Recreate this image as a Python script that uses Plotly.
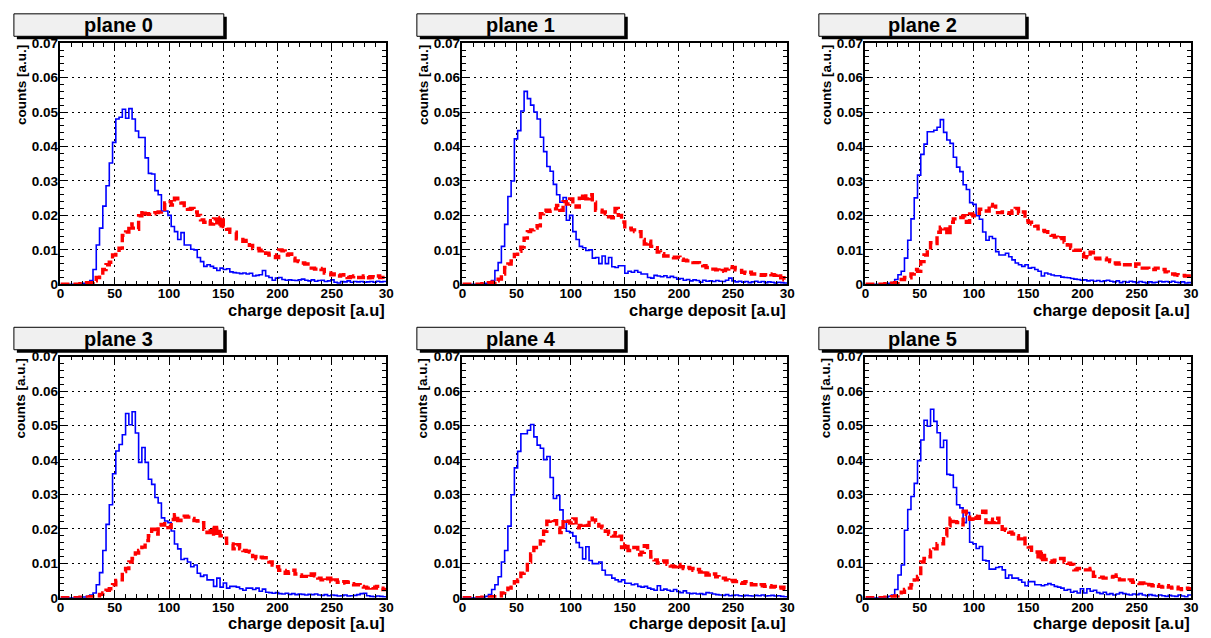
import plotly.graph_objects as go

W, H = 1211, 638

bin_edges = [3 * i for i in range(101)]
x_tick_vals = [0, 50, 100, 150, 200, 250, 300]
x_tick_text = ["0", "50", "100", "150", "200", "250", "30"]
y_tick_vals = [0, 0.01, 0.02, 0.03, 0.04, 0.05, 0.06, 0.07]
y_tick_text = ["0", "0.01", "0.02", "0.03", "0.04", "0.05", "0.06", "0.07"]
plane_names = ["plane 0", "plane 1", "plane 2", "plane 3", "plane 4", "plane 5"]
x_title = "charge deposit [a.u]"
y_title = "counts [a.u.]"

blue_0 = [0, 0, 0, 0, 0, 0, 0.0002, 0.0003, 0.0005, 0.0011,
          0.0043, 0.0114, 0.0163, 0.0227, 0.0286, 0.0352, 0.0412, 0.0480, 0.0485, 0.0508,
          0.0482, 0.0510, 0.0480, 0.0445, 0.0426, 0.0426, 0.0367, 0.0322, 0.0320, 0.0272,
          0.0260, 0.0213, 0.0213, 0.0200, 0.0168, 0.0153, 0.0130, 0.0150, 0.0114, 0.0114,
          0.0102, 0.0100, 0.0078, 0.0066, 0.0052, 0.0057, 0.0052, 0.0047, 0.0040, 0.0047,
          0.0043, 0.0045, 0.0036, 0.0034, 0.0033, 0.0031, 0.0033, 0.0030, 0.0032, 0.0024,
          0.0026, 0.0028, 0.0040, 0.0024, 0.0020, 0.0012, 0.0018, 0.0020, 0.0014, 0.0012,
          0.0013, 0.0012, 0.0011, 0.0013, 0.0015, 0.0012, 0.0010, 0.0013, 0.0009, 0.0011,
          0.0012, 0.0008, 0.0010, 0.0013, 0.0006, 0.0004, 0.0008, 0.0007, 0.0010, 0.0006,
          0.0008, 0.0007, 0.0008, 0.0006, 0.0007, 0.0008, 0.0006, 0.0009, 0.0007, 0.0008]
red_0 = [0, 0, 0, 0, 0, 0, 0.0002, 0.0003, 0.0005, 0.0005,
         0.0010, 0.0020, 0.0028, 0.0043, 0.0057, 0.0064, 0.0085, 0.0099, 0.0105, 0.0142,
         0.0152, 0.0175, 0.0163, 0.0160, 0.0199, 0.0213, 0.0205, 0.0203, 0.0205, 0.0208,
         0.0210, 0.0218, 0.0236, 0.0240, 0.0230, 0.0250, 0.0248, 0.0236, 0.0222, 0.0218,
         0.0220, 0.0210, 0.0200, 0.0187, 0.0180, 0.0185, 0.0175, 0.0190, 0.0170, 0.0194,
         0.0168, 0.0160, 0.0151, 0.0151, 0.0132, 0.0130, 0.0125, 0.0127, 0.0113, 0.0104,
         0.0104, 0.0097, 0.0099, 0.0090, 0.0085, 0.0085, 0.0078, 0.0100, 0.0097, 0.0085,
         0.0088, 0.0076, 0.0068, 0.0066, 0.0062, 0.0059, 0.0047, 0.0047, 0.0044, 0.0046,
         0.0043, 0.0033, 0.0033, 0.0028, 0.0030, 0.0024, 0.0027, 0.0028, 0.0020, 0.0022,
         0.0024, 0.0020, 0.0020, 0.0024, 0.0019, 0.0022, 0.0020, 0.0024, 0.0020, 0.0014]

blue_1 = [0, 0, 0, 0, 0, 0, 0.0002, 0.0003, 0.0004, 0.0011,
          0.0040, 0.0063, 0.0110, 0.0174, 0.0255, 0.0300, 0.0422, 0.0446, 0.0503, 0.0560,
          0.0539, 0.0520, 0.0500, 0.0480, 0.0427, 0.0385, 0.0342, 0.0328, 0.0290, 0.0260,
          0.0238, 0.0252, 0.0186, 0.0200, 0.0153, 0.0130, 0.0110, 0.0106, 0.0098, 0.0100,
          0.0076, 0.0078, 0.0060, 0.0082, 0.0060, 0.0078, 0.0051, 0.0049, 0.0054, 0.0054,
          0.0032, 0.0038, 0.0035, 0.0040, 0.0035, 0.0030, 0.0030, 0.0020, 0.0018, 0.0026,
          0.0024, 0.0022, 0.0025, 0.0020, 0.0023, 0.0020, 0.0015, 0.0017, 0.0012, 0.0014,
          0.0010, 0.0013, 0.0011, 0.0006, 0.0012, 0.0009, 0.0010, 0.0008, 0.0011, 0.0009,
          0.0008, 0.0012, 0.0018, 0.0010, 0.0007, 0.0009, 0.0006, 0.0008, 0.0005, 0.0007,
          0.0009, 0.0006, 0.0008, 0.0005, 0.0007, 0.0006, 0.0004, 0.0006, 0.0005, 0.0004]
red_1 = [0, 0, 0, 0, 0, 0, 0.0002, 0.0003, 0.0005, 0.0006,
         0.0010, 0.0015, 0.0030, 0.0049, 0.0059, 0.0068, 0.0087, 0.0096, 0.0108, 0.0134,
         0.0153, 0.0158, 0.0163, 0.0170, 0.0205, 0.0215, 0.0212, 0.0215, 0.0219, 0.0229,
         0.0215, 0.0240, 0.0233, 0.0248, 0.0233, 0.0224, 0.0250, 0.0262, 0.0248, 0.0260,
         0.0238, 0.0215, 0.0215, 0.0210, 0.0205, 0.0196, 0.0193, 0.0220, 0.0200, 0.0181,
         0.0167, 0.0163, 0.0158, 0.0153, 0.0153, 0.0130, 0.0117, 0.0125, 0.0110, 0.0106,
         0.0094, 0.0089, 0.0082, 0.0082, 0.0079, 0.0077, 0.0079, 0.0073, 0.0070, 0.0068,
         0.0068, 0.0063, 0.0063, 0.0059, 0.0054, 0.0049, 0.0044, 0.0044, 0.0042, 0.0038,
         0.0040, 0.0044, 0.0051, 0.0049, 0.0042, 0.0040, 0.0035, 0.0032, 0.0035, 0.0030,
         0.0030, 0.0028, 0.0026, 0.0028, 0.0030, 0.0028, 0.0026, 0.0030, 0.0019, 0.0013]

blue_2 = [0, 0, 0, 0, 0, 0, 0.0002, 0.0003, 0.0005, 0.0014,
          0.0028, 0.0038, 0.0076, 0.0128, 0.0190, 0.0251, 0.0317, 0.0377, 0.0407, 0.0443,
          0.0443, 0.0447, 0.0456, 0.0478, 0.0441, 0.0419, 0.0409, 0.0369, 0.0340, 0.0327,
          0.0289, 0.0275, 0.0237, 0.0232, 0.0199, 0.0189, 0.0152, 0.0128, 0.0139, 0.0133,
          0.0095, 0.0085, 0.0085, 0.0090, 0.0080, 0.0071, 0.0062, 0.0057, 0.0052, 0.0057,
          0.0047, 0.0049, 0.0043, 0.0038, 0.0024, 0.0033, 0.0030, 0.0027, 0.0025, 0.0025,
          0.0021, 0.0020, 0.0019, 0.0017, 0.0015, 0.0014, 0.0012, 0.0013, 0.0010, 0.0012,
          0.0009, 0.0011, 0.0008, 0.0010, 0.0012, 0.0009, 0.0007, 0.0010, 0.0005, 0.0008,
          0.0006, 0.0009, 0.0007, 0.0005, 0.0008, 0.0006, 0.0004, 0.0007, 0.0005, 0.0006,
          0.0009, 0.0007, 0.0008, 0.0006, 0.0009, 0.0006, 0.0005, 0.0007, 0.0004, 0.0005]
red_2 = [0, 0, 0, 0, 0, 0, 0.0002, 0.0002, 0.0003, 0.0005,
         0.0008, 0.0014, 0.0020, 0.0019, 0.0030, 0.0043, 0.0038, 0.0066, 0.0085, 0.0099,
         0.0121, 0.0118, 0.0151, 0.0166, 0.0161, 0.0144, 0.0180, 0.0190, 0.0194, 0.0194,
         0.0199, 0.0180, 0.0204, 0.0199, 0.0206, 0.0218, 0.0213, 0.0213, 0.0232, 0.0227,
         0.0208, 0.0208, 0.0210, 0.0208, 0.0206, 0.0213, 0.0220, 0.0206, 0.0210, 0.0185,
         0.0180, 0.0175, 0.0169, 0.0161, 0.0156, 0.0153, 0.0151, 0.0142, 0.0137, 0.0133,
         0.0135, 0.0123, 0.0114, 0.0106, 0.0099, 0.0099, 0.0090, 0.0080, 0.0078, 0.0093,
         0.0076, 0.0074, 0.0076, 0.0076, 0.0071, 0.0066, 0.0062, 0.0059, 0.0062, 0.0057,
         0.0057, 0.0057, 0.0052, 0.0059, 0.0047, 0.0047, 0.0047, 0.0043, 0.0043, 0.0047,
         0.0047, 0.0043, 0.0036, 0.0030, 0.0030, 0.0028, 0.0026, 0.0026, 0.0024, 0.0024]

blue_3 = [0, 0, 0, 0, 0, 0, 0.0002, 0.0002, 0.0004, 0.0008,
          0.0014, 0.0038, 0.0073, 0.0137, 0.0213, 0.0270, 0.0360, 0.0426, 0.0445, 0.0473,
          0.0535, 0.0502, 0.0540, 0.0478, 0.0393, 0.0436, 0.0393, 0.0344, 0.0329, 0.0291,
          0.0275, 0.0232, 0.0223, 0.0218, 0.0194, 0.0156, 0.0142, 0.0111, 0.0114, 0.0104,
          0.0090, 0.0095, 0.0071, 0.0062, 0.0066, 0.0052, 0.0052, 0.0033, 0.0057, 0.0031,
          0.0043, 0.0028, 0.0033, 0.0033, 0.0031, 0.0026, 0.0022, 0.0028, 0.0028, 0.0024,
          0.0028, 0.0019, 0.0025, 0.0016, 0.0015, 0.0013, 0.0015, 0.0012, 0.0011, 0.0013,
          0.0010, 0.0012, 0.0009, 0.0011, 0.0010, 0.0008, 0.0010, 0.0009, 0.0011, 0.0008,
          0.0007, 0.0009, 0.0006, 0.0008, 0.0007, 0.0005, 0.0006, 0.0008, 0.0005, 0.0006,
          0.0007, 0.0009, 0.0012, 0.0013, 0.0006, 0.0004, 0.0003, 0.0005, 0.0004, 0.0003]
red_3 = [0, 0, 0, 0, 0, 0, 0.0002, 0.0002, 0.0002, 0.0003,
         0.0003, 0.0005, 0.0010, 0.0014, 0.0022, 0.0026, 0.0038, 0.0050, 0.0052, 0.0076,
         0.0085, 0.0104, 0.0114, 0.0130, 0.0137, 0.0147, 0.0166, 0.0180, 0.0199, 0.0185,
         0.0213, 0.0211, 0.0215, 0.0204, 0.0227, 0.0241, 0.0224, 0.0234, 0.0237, 0.0234,
         0.0230, 0.0224, 0.0223, 0.0218, 0.0199, 0.0189, 0.0204, 0.0180, 0.0204, 0.0180,
         0.0173, 0.0158, 0.0156, 0.0142, 0.0154, 0.0142, 0.0137, 0.0135, 0.0133, 0.0120,
         0.0114, 0.0118, 0.0116, 0.0116, 0.0104, 0.0095, 0.0090, 0.0080, 0.0079, 0.0071,
         0.0076, 0.0080, 0.0069, 0.0066, 0.0062, 0.0062, 0.0060, 0.0069, 0.0064, 0.0057,
         0.0052, 0.0050, 0.0057, 0.0047, 0.0052, 0.0045, 0.0043, 0.0047, 0.0045, 0.0041,
         0.0038, 0.0038, 0.0033, 0.0031, 0.0028, 0.0031, 0.0028, 0.0033, 0.0028, 0.0024]

blue_4 = [0, 0, 0, 0, 0, 0, 0.0002, 0.0004, 0.0009, 0.0024,
          0.0038, 0.0061, 0.0104, 0.0137, 0.0208, 0.0299, 0.0377, 0.0425, 0.0476, 0.0476,
          0.0486, 0.0503, 0.0467, 0.0443, 0.0434, 0.0401, 0.0410, 0.0349, 0.0288, 0.0297,
          0.0255, 0.0222, 0.0193, 0.0189, 0.0179, 0.0160, 0.0146, 0.0113, 0.0148, 0.0108,
          0.0099, 0.0099, 0.0104, 0.0080, 0.0066, 0.0066, 0.0057, 0.0052, 0.0047, 0.0052,
          0.0042, 0.0042, 0.0038, 0.0040, 0.0033, 0.0031, 0.0033, 0.0028, 0.0025, 0.0022,
          0.0035, 0.0022, 0.0025, 0.0022, 0.0019, 0.0024, 0.0018, 0.0015, 0.0020, 0.0014,
          0.0012, 0.0013, 0.0011, 0.0012, 0.0010, 0.0015, 0.0014, 0.0011, 0.0009, 0.0008,
          0.0007, 0.0009, 0.0006, 0.0007, 0.0008, 0.0006, 0.0005, 0.0007, 0.0006, 0.0005,
          0.0007, 0.0006, 0.0008, 0.0005, 0.0006, 0.0007, 0.0005, 0.0006, 0.0004, 0.0003]
red_4 = [0, 0, 0, 0, 0, 0, 0.0002, 0.0002, 0.0002, 0.0003,
         0.0003, 0.0005, 0.0014, 0.0019, 0.0028, 0.0031, 0.0047, 0.0052, 0.0071, 0.0075,
         0.0104, 0.0127, 0.0146, 0.0146, 0.0165, 0.0193, 0.0222, 0.0226, 0.0224, 0.0203,
         0.0189, 0.0226, 0.0222, 0.0217, 0.0229, 0.0203, 0.0210, 0.0214, 0.0210, 0.0231,
         0.0226, 0.0220, 0.0208, 0.0203, 0.0193, 0.0184, 0.0179, 0.0189, 0.0179, 0.0146,
         0.0156, 0.0137, 0.0146, 0.0146, 0.0125, 0.0132, 0.0151, 0.0146, 0.0118, 0.0110,
         0.0101, 0.0104, 0.0107, 0.0097, 0.0092, 0.0090, 0.0097, 0.0090, 0.0085, 0.0088,
         0.0085, 0.0080, 0.0082, 0.0075, 0.0078, 0.0066, 0.0071, 0.0069, 0.0061, 0.0057,
         0.0057, 0.0052, 0.0047, 0.0050, 0.0047, 0.0044, 0.0042, 0.0047, 0.0041, 0.0038,
         0.0038, 0.0035, 0.0038, 0.0033, 0.0035, 0.0031, 0.0033, 0.0028, 0.0031, 0.0025]

blue_5 = [0, 0, 0, 0, 0, 0, 0.0002, 0.0004, 0.0008, 0.0024,
          0.0066, 0.0095, 0.0196, 0.0256, 0.0294, 0.0332, 0.0398, 0.0458, 0.0515, 0.0498,
          0.0547, 0.0512, 0.0479, 0.0436, 0.0457, 0.0358, 0.0356, 0.0320, 0.0270, 0.0261,
          0.0218, 0.0247, 0.0161, 0.0157, 0.0143, 0.0149, 0.0109, 0.0107, 0.0083, 0.0083,
          0.0088, 0.0090, 0.0081, 0.0057, 0.0066, 0.0057, 0.0057, 0.0052, 0.0045, 0.0035,
          0.0047, 0.0047, 0.0038, 0.0038, 0.0035, 0.0038, 0.0041, 0.0038, 0.0033, 0.0031,
          0.0028, 0.0022, 0.0024, 0.0016, 0.0019, 0.0014, 0.0026, 0.0014, 0.0026, 0.0019,
          0.0022, 0.0015, 0.0012, 0.0016, 0.0010, 0.0012, 0.0008, 0.0011, 0.0015, 0.0012,
          0.0010, 0.0008, 0.0011, 0.0009, 0.0012, 0.0008, 0.0006, 0.0009, 0.0007, 0.0005,
          0.0008, 0.0006, 0.0004, 0.0007, 0.0005, 0.0004, 0.0008, 0.0005, 0.0003, 0.0008]
red_5 = [0, 0, 0, 0, 0, 0, 0.0002, 0.0002, 0.0003, 0.0005,
         0.0008, 0.0016, 0.0024, 0.0028, 0.0038, 0.0052, 0.0062, 0.0104, 0.0114, 0.0119,
         0.0138, 0.0142, 0.0157, 0.0157, 0.0180, 0.0209, 0.0231, 0.0221, 0.0218, 0.0212,
         0.0251, 0.0242, 0.0228, 0.0237, 0.0231, 0.0242, 0.0251, 0.0218, 0.0228, 0.0218,
         0.0231, 0.0218, 0.0199, 0.0196, 0.0190, 0.0185, 0.0180, 0.0171, 0.0178, 0.0157,
         0.0147, 0.0138, 0.0133, 0.0111, 0.0133, 0.0111, 0.0107, 0.0104, 0.0109, 0.0114,
         0.0114, 0.0104, 0.0100, 0.0097, 0.0081, 0.0085, 0.0085, 0.0081, 0.0081, 0.0085,
         0.0062, 0.0062, 0.0060, 0.0057, 0.0057, 0.0060, 0.0062, 0.0066, 0.0052, 0.0052,
         0.0050, 0.0052, 0.0045, 0.0043, 0.0041, 0.0043, 0.0045, 0.0038, 0.0035, 0.0038,
         0.0033, 0.0031, 0.0035, 0.0031, 0.0028, 0.0031, 0.0026, 0.0024, 0.0028, 0.0026]

blue_series = [blue_0, blue_1, blue_2, blue_3, blue_4, blue_5]
red_series = [red_0, red_1, red_2, red_3, red_4, red_5]

# layout geometry (pixels)
col_x = [(57, 386), (463, 791), (870, 1199)]
row_y = [(37, 284), (358, 605)]
box_x = [(10, 222), (417, 627), (823, 1032)]
box_y = [(7, 30), (328, 351)]


def fx(p):
    return p / W


def fy(p):
    return 1 - p / H


FONT = "Liberation Sans, Arial, sans-serif"
fig = go.Figure()
shapes = []
annotations = []
layout_axes = {}

for k in range(6):
    r, c = divmod(k, 3)
    xn = "x" if k == 0 else f"x{k + 1}"
    yn = "y" if k == 0 else f"y{k + 1}"
    xkey = "xaxis" if k == 0 else f"xaxis{k + 1}"
    ykey = "yaxis" if k == 0 else f"yaxis{k + 1}"

    b = blue_series[k]
    rd = red_series[k]
    fig.add_trace(go.Scatter(x=bin_edges, y=b + [b[-1]], mode="lines",
                             line=dict(shape="hv", color="#0000ff", width=1.6),
                             xaxis=xn, yaxis=yn, showlegend=False, hoverinfo="skip"))
    fig.add_trace(go.Scatter(x=bin_edges, y=rd + [rd[-1]], mode="lines",
                             line=dict(shape="hv", color="#ff0000", width=3.4, dash="9px,4px"),
                             xaxis=xn, yaxis=yn, showlegend=False, hoverinfo="skip"))

    x0, x1 = col_x[c]
    y0, y1 = row_y[r]
    common = dict(
        ticks="inside", ticklen=8, tickwidth=1, tickcolor="black",
        showline=True, linecolor="black", linewidth=1.5, mirror="allticks",
        showgrid=True, gridcolor="black", griddash="2px,4px", gridwidth=1.2,
        zeroline=False, fixedrange=True,
        tickfont=dict(family=FONT, size=13.5, color="black", weight="bold"),
    )
    layout_axes[xkey] = dict(
        domain=[fx(x0), fx(x1)], range=[0, 300], anchor=yn,
        tickmode="array", tickvals=x_tick_vals, ticktext=x_tick_text,
        ticklabelstandoff=-4,
        minor=dict(tickmode="linear", tick0=0, dtick=10, ticklen=4, ticks="inside",
                   tickcolor="black", showgrid=False),
        **common)
    layout_axes[ykey] = dict(
        domain=[fy(y1), fy(y0)], range=[0, 0.07], anchor=xn,
        tickmode="array", tickvals=y_tick_vals, ticktext=y_tick_text,
        ticklabelstandoff=-2,
        minor=dict(tickmode="linear", tick0=0, dtick=0.002, ticklen=4, ticks="inside",
                   tickcolor="black", showgrid=False),
        **common)

    # title box with shadow
    bx0, bx1 = box_x[c]
    by0, by1 = box_y[r]
    shapes.append(dict(type="rect", xref="paper", yref="paper",
                       x0=fx(bx0 + 3), x1=fx(bx1 + 3), y0=fy(by1 + 3), y1=fy(by0 + 3),
                       fillcolor="black", line=dict(width=0)))
    shapes.append(dict(type="rect", xref="paper", yref="paper",
                       x0=fx(bx0), x1=fx(bx1), y0=fy(by1), y1=fy(by0),
                       fillcolor="#f0f0f0", line=dict(color="black", width=1)))
    annotations.append(dict(text=plane_names[k], xref="paper", yref="paper",
                            x=fx((bx0 + bx1) / 2), y=fy((by0 + by1) / 2),
                            xanchor="center", yanchor="middle", showarrow=False,
                            font=dict(family=FONT, size=20, color="black", weight="bold")))
    # x title (right aligned)
    annotations.append(dict(text=x_title, xref="paper", yref="paper",
                            x=fx(x1 + 1), y=fy(y1 + 26), xanchor="right", yanchor="middle",
                            showarrow=False,
                            font=dict(family=FONT, size=16.5, color="black", weight="bold")))
    # y title (rotated, top aligned)
    annotations.append(dict(text=y_title, xref="paper", yref="paper",
                            x=fx(x0 - 40), y=fy(y0), xanchor="center", yanchor="top",
                            textangle=-90, showarrow=False,
                            font=dict(family=FONT, size=13.5, color="black", weight="bold")))

fig.update_layout(
    width=W, height=H,
    margin=dict(l=0, r=0, t=0, b=0),
    paper_bgcolor="white", plot_bgcolor="white",
    shapes=shapes, annotations=annotations,
    showlegend=False,
    **layout_axes,
)

fig.write_html("out.html")
